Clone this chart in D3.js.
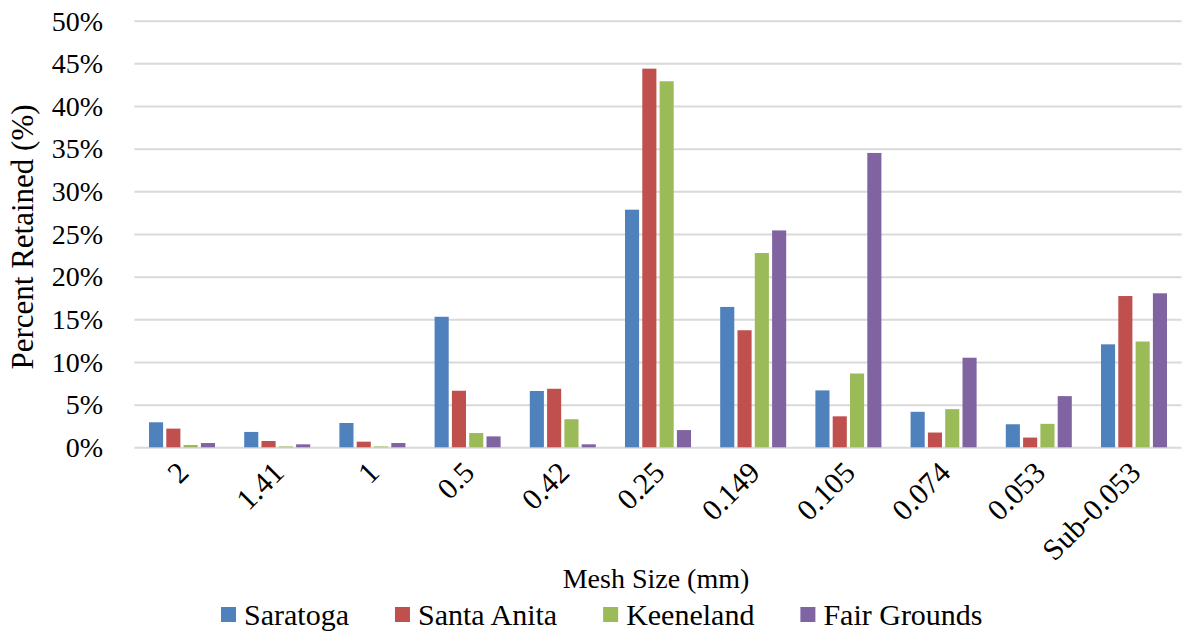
<!DOCTYPE html>
<html>
<head>
<meta charset="utf-8">
<script src="https://cdn.jsdelivr.net/npm/d3@7"></script>
<style>
  body { margin: 0; background: #fff; }
  text { font-family: "Liberation Serif", "Times New Roman", serif; fill: #000; }
  .grid line { stroke: #d9d9d9; stroke-width: 2; }
  .grid path { display: none; }
</style>
</head>
<body>
<div id="chart"></div>
<script>
var width = 1182, height = 632;

// data (percent retained)
var categories = ["2", "1.41", "1", "0.5", "0.42", "0.25", "0.149", "0.105", "0.074", "0.053", "Sub-0.053"];
var seriesNames = ["Saratoga", "Santa Anita", "Keeneland", "Fair Grounds"];
var seriesColors = ["#4f81bd", "#c0504d", "#9bbb59", "#8064a2"];
var saratoga    = [2.93, 1.8, 2.85, 15.3, 6.6, 27.85, 16.45, 6.67, 4.16, 2.7, 12.07];
var santaAnita  = [2.19, 0.74, 0.66, 6.63, 6.86, 44.38, 13.72, 3.63, 1.73, 1.14, 17.73];
var keeneland   = [0.27, 0.1, 0.1, 1.67, 3.29, 42.9, 22.77, 8.65, 4.47, 2.75, 12.4];
var fairGrounds = [0.5, 0.35, 0.5, 1.28, 0.35, 2.02, 25.42, 34.5, 10.5, 6.0, 18.05];
var yTicks = [0, 5, 10, 15, 20, 25, 30, 35, 40, 45, 50];

var seriesValues = [saratoga, santaAnita, keeneland, fairGrounds];

var svg = d3.select("#chart").append("svg")
  .attr("width", width)
  .attr("height", height);

var plotLeft = 134.4, plotRight = 1181.6, plotTop = 20.7, plotBottom = 447.3;

var x0 = d3.scaleBand()
  .domain(categories)
  .range([plotLeft, plotRight])
  .paddingInner(0.273)
  .paddingOuter(0.1365);

var x1 = d3.scaleBand()
  .domain(seriesNames)
  .range([0, x0.bandwidth()]);

var y = d3.scaleLinear()
  .domain([0, 50])
  .range([plotBottom, plotTop]);

// gridlines
svg.append("g")
  .attr("class", "grid")
  .attr("transform", "translate(" + plotLeft + ",0)")
  .call(d3.axisLeft(y).tickValues(yTicks).tickSize(-(plotRight - plotLeft)).tickFormat(""));

// y tick labels
svg.append("g")
  .selectAll("text")
  .data(yTicks)
  .enter().append("text")
    .attr("x", 103)
    .attr("y", function(d) { return y(d); })
    .attr("dy", "0.35em")
    .attr("text-anchor", "end")
    .style("font-size", "28px")
    .text(function(d) { return d + "%"; });

// bars
var groups = svg.append("g")
  .selectAll("g")
  .data(categories)
  .enter().append("g")
    .attr("transform", function(d) { return "translate(" + x0(d) + ",0)"; });

groups.selectAll("rect")
  .data(function(d, i) {
    return seriesNames.map(function(s, k) {
      return { series: s, color: seriesColors[k], value: seriesValues[k][i] };
    });
  })
  .enter().append("rect")
    .attr("x", function(d) { return x1(d.series) + 1.6; })
    .attr("width", x1.bandwidth() - 3.2)
    .attr("y", function(d) { return y(d.value); })
    .attr("height", function(d) { return plotBottom - y(d.value); })
    .attr("fill", function(d) { return d.color; });

// x tick labels, rotated
svg.append("g")
  .selectAll("text")
  .data(categories)
  .enter().append("text")
    .attr("transform", function(d) {
      return "translate(" + (x0(d) + x0.bandwidth() / 2 + 1) + ",467) rotate(-45)";
    })
    .attr("dy", "0.35em")
    .attr("text-anchor", "end")
    .style("font-size", "30px")
    .text(function(d) { return d; });

// axis titles
svg.append("text")
  .attr("transform", "translate(33,237) rotate(-90)")
  .attr("text-anchor", "middle")
  .style("font-size", "31px")
  .text("Percent Retained (%)");

svg.append("text")
  .attr("x", 656)
  .attr("y", 588)
  .attr("text-anchor", "middle")
  .style("font-size", "28px")
  .text("Mesh Size (mm)");

// legend
var legend = svg.append("g").attr("class", "legend");
var lx = 221;
seriesNames.forEach(function(name, k) {
  legend.append("rect")
    .attr("x", lx)
    .attr("y", 607)
    .attr("width", 15)
    .attr("height", 15)
    .attr("fill", seriesColors[k]);
  var t = legend.append("text")
    .attr("x", lx + 23)
    .attr("y", 625)
    .style("font-size", "30px")
    .text(name);
  lx += 23 + t.node().getComputedTextLength() + 46;
});
</script>
</body>
</html>
